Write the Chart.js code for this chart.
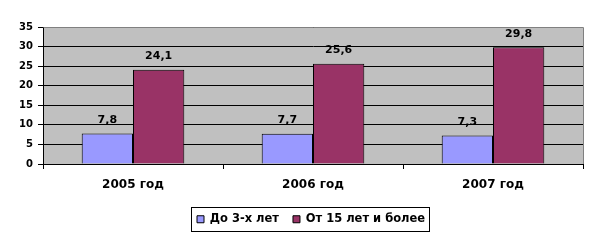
<!DOCTYPE html>
<html>
<head>
<meta charset="utf-8">
<script src="https://cdn.jsdelivr.net/npm/chart.js@4/dist/chart.umd.min.js"></script>
<style>
html,body{margin:0;padding:0;background:#fff;}
#wrap{width:598px;height:241px;position:relative;}
</style>
</head>
<body>
<div id="wrap"><canvas id="c" width="598" height="241"></canvas></div>
<script>
const categories = ["2005 год", "2006 год", "2007 год"];
const seriesNames = ["До 3-х лет", "От 15 лет и более"];
const seriesUnder3 = [7.8, 7.7, 7.3];
const series15plus = [24.1, 25.6, 29.8];
const yTicks = [0, 5, 10, 15, 20, 25, 30, 35];

const FONT = "'DejaVu Sans', 'Liberation Sans', Arial, sans-serif";

const legendShift = {
  id: 'legendShift',
  afterLayout(chart) {
    const lg = chart.legend;
    if (!lg) return;
    const w = lg.width;
    lg.left = 183;
    lg.right = 183 + w;
  }
};

const plotBg = {
  id: 'plotBg',
  beforeDraw(chart) {
    const {ctx, chartArea: a} = chart;
    ctx.save();
    ctx.fillStyle = '#C0C0C0';
    ctx.fillRect(a.left, a.top, a.right - a.left, a.bottom - a.top);
    ctx.restore();
  },
  afterDraw(chart) {
    const {ctx, chartArea: a} = chart;
    ctx.save();
    ctx.strokeStyle = '#808080';
    ctx.lineWidth = 1;
    ctx.beginPath();
    ctx.moveTo(a.left + 0.5, Math.round(a.top) + 0.5);
    ctx.lineTo(Math.round(a.right) + 0.5, Math.round(a.top) + 0.5);
    ctx.lineTo(Math.round(a.right) + 0.5, a.bottom);
    ctx.stroke();
    // legend border
    const lg = chart.legend;
    if (lg && lg.legendHitBoxes && lg.legendHitBoxes.length) {
      let l = Infinity, r = -Infinity, t = Infinity, b = -Infinity;
      lg.legendHitBoxes.forEach(h => {
        l = Math.min(l, h.left); r = Math.max(r, h.left + h.width);
        t = Math.min(t, h.top); b = Math.max(b, h.top + h.height);
      });
      ctx.strokeStyle = '#000';
      ctx.strokeRect(Math.round(l) - 5.5, Math.round(t) - 6.5, Math.round(r - l) + 10, Math.round(b - t) + 12);
    }
    ctx.restore();
  }
};

const valueLabels = {
  id: 'valueLabels',
  afterDatasetsDraw(chart) {
    const {ctx} = chart;
    ctx.save();
    ctx.font = 'bold 11px ' + FONT;
    ctx.fillStyle = '#000';
    ctx.textAlign = 'center';
    ctx.textBaseline = 'bottom';
    chart.data.datasets.forEach((ds, i) => {
      const meta = chart.getDatasetMeta(i);
      meta.data.forEach((el, j) => {
        ctx.fillText(String(ds.data[j]).replace('.', ','), el.x, el.y - 8);
      });
    });
    ctx.restore();
  }
};

new Chart(document.getElementById('c'), {
  type: 'bar',
  data: {
    labels: categories,
    datasets: [
      {label: seriesNames[0], data: seriesUnder3, backgroundColor: '#9999FF', borderColor: '#000', borderWidth: 1},
      {label: seriesNames[1], data: series15plus, backgroundColor: '#993366', borderColor: '#000', borderWidth: 1}
    ]
  },
  options: {
    responsive: false,
    animation: false,
    devicePixelRatio: 1,
    layout: {padding: {left: 0, right: 15, top: 27, bottom: 6}},
    datasets: {bar: {categoryPercentage: 0.57, barPercentage: 1.0}},
    scales: {
      x: {
        grid: {display: true, offset: true, drawOnChartArea: false, color: '#000', tickLength: 5},
        border: {color: '#000'},
        ticks: {color: '#000', font: {family: FONT, weight: 'bold', size: 12}, padding: 9, maxRotation: 0},
        afterFit(scale) { scale.height = 35.5; }
      },
      y: {
        min: 0, max: 35,
        afterBuildTicks(scale) { scale.ticks = yTicks.map(v => ({value: v})); },
        grid: {color: '#000', tickLength: 5},
        border: {color: '#000'},
        ticks: {color: '#000', font: {family: FONT, weight: 'bold', size: 10}, padding: 5},
        afterFit(scale) { scale.width = 43; }
      }
    },
    plugins: {
      legend: {
        position: 'bottom',
        align: 'start',
        labels: {color: '#000', font: {family: FONT, weight: 'bold', size: 11.5}, boxWidth: 7, boxHeight: 7, padding: 14}
      },
      tooltip: {enabled: false}
    }
  },
  plugins: [legendShift, plotBg, valueLabels]
});
</script>
</body>
</html>
